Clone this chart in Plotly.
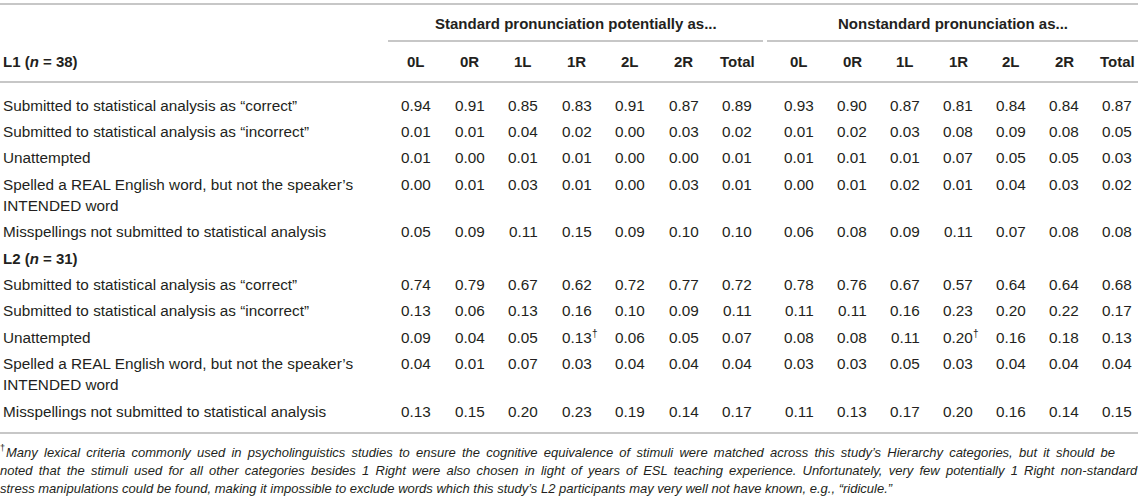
import plotly.graph_objects as go

# ---------------- data ----------------
group_titles = ["Standard pronunciation potentially as...", "Nonstandard pronunciation as..."]
col_labels = ["0L", "0R", "1L", "1R", "2L", "2R", "Total"]
section_titles = ["L1 (<i>n</i> = 38)", "L2 (<i>n</i> = 31)"]
row_labels = [
    ["Submitted to statistical analysis as “correct”"],
    ["Submitted to statistical analysis as “incorrect”"],
    ["Unattempted"],
    ["Spelled a REAL English word, but not the speaker’s", "INTENDED word"],
    ["Misspellings not submitted to statistical analysis"],
]

l1_standard = [
    [0.94, 0.91, 0.85, 0.83, 0.91, 0.87, 0.89],
    [0.01, 0.01, 0.04, 0.02, 0.00, 0.03, 0.02],
    [0.01, 0.00, 0.01, 0.01, 0.00, 0.00, 0.01],
    [0.00, 0.01, 0.03, 0.01, 0.00, 0.03, 0.01],
    [0.05, 0.09, 0.11, 0.15, 0.09, 0.10, 0.10],
]
l1_nonstandard = [
    [0.93, 0.90, 0.87, 0.81, 0.84, 0.84, 0.87],
    [0.01, 0.02, 0.03, 0.08, 0.09, 0.08, 0.05],
    [0.01, 0.01, 0.01, 0.07, 0.05, 0.05, 0.03],
    [0.00, 0.01, 0.02, 0.01, 0.04, 0.03, 0.02],
    [0.06, 0.08, 0.09, 0.11, 0.07, 0.08, 0.08],
]
l2_standard = [
    [0.74, 0.79, 0.67, 0.62, 0.72, 0.77, 0.72],
    [0.13, 0.06, 0.13, 0.16, 0.10, 0.09, 0.11],
    [0.09, 0.04, 0.05, 0.13, 0.06, 0.05, 0.07],
    [0.04, 0.01, 0.07, 0.03, 0.04, 0.04, 0.04],
    [0.13, 0.15, 0.20, 0.23, 0.19, 0.14, 0.17],
]
l2_nonstandard = [
    [0.78, 0.76, 0.67, 0.57, 0.64, 0.64, 0.68],
    [0.11, 0.11, 0.16, 0.23, 0.20, 0.22, 0.17],
    [0.08, 0.08, 0.11, 0.20, 0.16, 0.18, 0.13],
    [0.03, 0.03, 0.05, 0.03, 0.04, 0.04, 0.04],
    [0.11, 0.13, 0.17, 0.20, 0.16, 0.14, 0.15],
]
# cells carrying a dagger: (section, group, row, col)
dagger_cells = [(1, 0, 2, 3), (1, 1, 2, 3)]

footnote_mark = "†"
footnote_lines = [
    "Many lexical criteria commonly used in psycholinguistics studies to ensure the cognitive equivalence of stimuli were matched across this study’s Hierarchy categories, but it should be",
    "noted that the stimuli used for all other categories besides 1 Right were also chosen in light of years of ESL teaching experience. Unfortunately, very few potentially 1 Right non-standard",
    "stress manipulations could be found, making it impossible to exclude words which this study’s L2 participants may very well not have known, e.g., “ridicule.”",
]

sections = [[l1_standard, l1_nonstandard], [l2_standard, l2_nonstandard]]

# ---------------- layout constants ----------------
W, H = 1145, 504
FONT = "Liberation Sans, Arial, Helvetica, sans-serif"
TXT = "#231f20"
LINE = "#b4b4b4"
FS = 15.3
FSB = 15
group_first = [416, 799]
group_step = [53.5, 53.0]
group_line = [(388, 763), (767, 1138)]
row_pitch = 26.4
wrap_pitch = 21

ann = []
shapes = []

def hline(x0, x1, y):
    shapes.append(dict(type="line", xref="x", yref="y", x0=x0, x1=x1, y0=y, y1=y,
                       line=dict(color=LINE, width=1.5)))

def text(x, y, s, size=FS, anchor="center", bold=False, italic=False, xshift=0):
    if bold:
        s = "<b>" + s + "</b>"
        size = FSB
    if italic:
        s = "<i>" + s + "</i>"
    ann.append(dict(x=x, y=y, xref="x", yref="y", text=s, showarrow=False,
                    xanchor=anchor, yanchor="middle", xshift=xshift,
                    font=dict(family=FONT, size=size, color=TXT)))

def col_x(g, c):
    return group_first[g] + group_step[g] * c

# header
hline(0, 1138, 4)
for g, title in enumerate(group_titles):
    x0, x1 = group_line[g]
    text((x0 + x1) / 2, 23, title, bold=True)
    hline(x0, x1, 41)
    for c, lab in enumerate(col_labels):
        text(col_x(g, c), 61, lab, bold=True)
hline(0, 1138, 82)

# body
y = 61
for s, sec in enumerate(sections):
    if s == 0:
        text(1, 61, section_titles[s], anchor="left", bold=True)
        y = 105
    else:
        text(1, y, section_titles[s], anchor="left", bold=True)
        y += row_pitch
    for r, lines in enumerate(row_labels):
        for k, ln in enumerate(lines):
            text(1, y + k * wrap_pitch, ln, anchor="left")
        for g in range(2):
            for c, v in enumerate(sec[g][r]):
                text(col_x(g, c), y, f"{v:.2f}")
                if (s, g, r, c) in dagger_cells:
                    text(col_x(g, c) + 13, y - 4, footnote_mark, size=10, anchor="left")
        y += row_pitch + wrap_pitch * (len(lines) - 1)

bottom = y - row_pitch + 22
hline(0, 1138, bottom)

# footnote (first two lines justified in the reference -> widen the spaces)
fy = bottom + 19
text(0, fy - 4, footnote_mark, size=9, anchor="left", xshift=-2)
for i, ln in enumerate(footnote_lines):
    body = ln if i == 2 else ln.replace(" ", " \u2009")
    ann.append(dict(x=0, y=fy + i * 18, xref="x", yref="y", text="<i>" + body + "</i>",
                    showarrow=False, xanchor="left", yanchor="middle",
                    xshift=(4 if i == 0 else -2),
                    font=dict(family=FONT, size=13, color=TXT)))

fig = go.Figure()
fig.update_layout(
    width=W, height=H, margin=dict(l=0, r=0, t=0, b=0),
    paper_bgcolor="white", plot_bgcolor="white",
    xaxis=dict(range=[0, W], visible=False, fixedrange=True),
    yaxis=dict(range=[H, 0], visible=False, fixedrange=True),
    annotations=ann, shapes=shapes, showlegend=False,
)
fig.write_html("out.html", config={"displayModeBar": False},
               post_script="document.body.style.margin='0px';document.body.style.overflow='hidden';")
